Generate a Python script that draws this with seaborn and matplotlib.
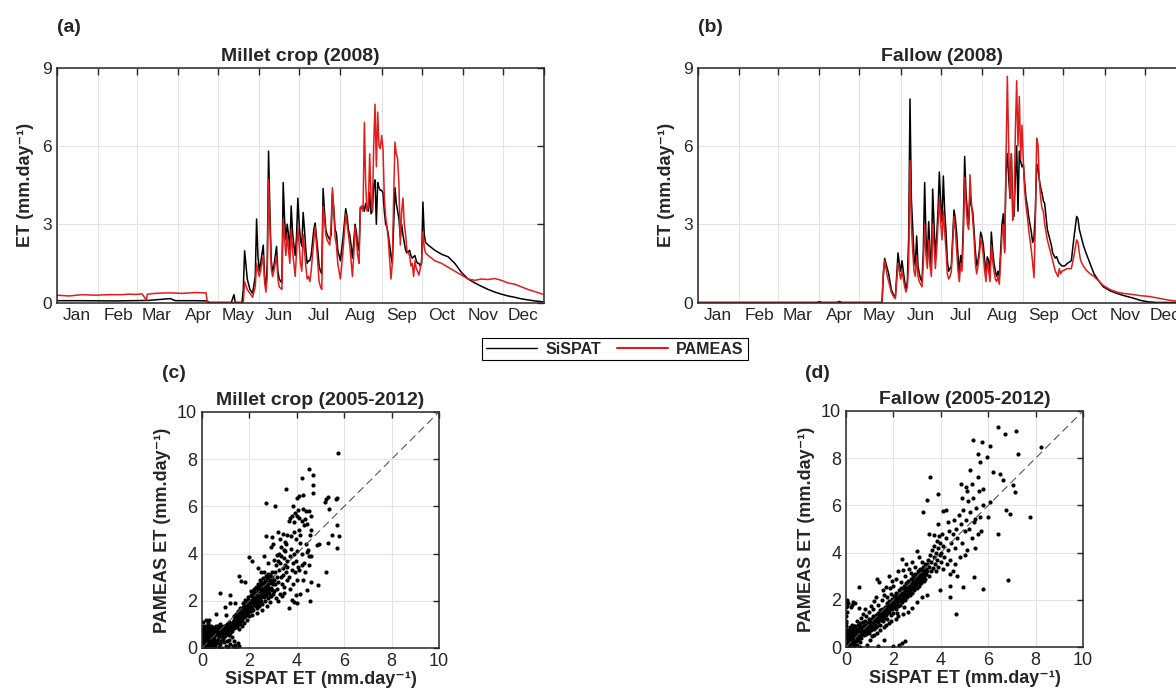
import numpy as np
import pandas as pd
import matplotlib
matplotlib.use("Agg")
import matplotlib.pyplot as plt
import matplotlib.dates as mdates
from matplotlib.ticker import NullFormatter
from matplotlib.lines import Line2D
import seaborn as sns

# ---- daily ET 2008, (day of year, mm/day) ----
millet_sispat = [
    (1, 0.07), (20, 0.07), (45, 0.06), (70, 0.08), (86, 0.15), (90, 0.07), (105, 0.07), (114, 0.06),
    (115, 0.0), (132, 0.0), (134, 0.3), (135, 0.0), (140, 0.0), (141, 0.5), (142, 1.98), (144, 0.9),
    (146, 0.5), (148, 0.35), (150, 1.0), (151, 3.2), (152, 1.8), (153, 1.2), (154, 1.5), (156, 2.2),
    (157, 1.0), (158, 0.5), (159, 1.5), (160, 5.8), (161, 3.5), (162, 1.6), (163, 1.2), (164, 1.4),
    (166, 2.15), (167, 1.2), (168, 0.9), (170, 0.75), (171, 4.6), (172, 3.2), (173, 2.4), (174, 3.0),
    (175, 2.6), (176, 2.0), (177, 3.7), (178, 2.7), (179, 2.2), (180, 1.8), (181, 2.5), (182, 4.0),
    (183, 3.0), (184, 2.4), (185, 2.15), (186, 3.45), (187, 2.8), (188, 2.0), (189, 1.5), (190, 1.6),
    (191, 1.6), (192, 1.8), (194, 2.8), (195, 3.05), (196, 2.5), (197, 2.0), (198, 1.4), (199, 1.2),
    (200, 1.1), (201, 4.37), (202, 3.5), (203, 2.8), (204, 2.6), (205, 2.5), (206, 2.4), (207, 2.6),
    (208, 4.2), (209, 3.6), (210, 2.8), (211, 2.65), (212, 2.0), (213, 1.8), (214, 1.6), (216, 2.5),
    (218, 3.6), (219, 3.3), (220, 2.8), (221, 2.6), (222, 2.2), (223, 1.7), (224, 2.3), (225, 3.0),
    (226, 2.7), (227, 2.2), (228, 2.0), (229, 3.65), (230, 3.6), (231, 3.7), (232, 3.5), (233, 3.8),
    (234, 3.6), (235, 3.5), (236, 4.2), (237, 3.4), (238, 3.5), (239, 4.5), (240, 4.7), (241, 3.0),
    (242, 4.6), (243, 4.4), (244, 4.3), (245, 4.3), (246, 4.2), (247, 3.5), (248, 3.0), (249, 2.9),
    (250, 2.6), (252, 1.8), (253, 1.5), (254, 3.0), (255, 4.4), (256, 3.8), (257, 3.5), (258, 3.2),
    (259, 2.5), (260, 3.0), (261, 2.6), (262, 2.3), (263, 2.0), (264, 1.9), (266, 2.0), (267, 1.8),
    (268, 1.7), (270, 1.8), (271, 1.6), (272, 1.5), (273, 1.5), (274, 1.4), (275, 1.5), (276, 3.85),
    (277, 2.6), (278, 2.3), (280, 2.2), (285, 2.0), (290, 1.85), (295, 1.75), (300, 1.5), (305, 1.15),
    (310, 0.9), (315, 0.75), (320, 0.62), (325, 0.5), (330, 0.4), (335, 0.32), (340, 0.25), (345, 0.2),
    (350, 0.14), (355, 0.1), (360, 0.06), (366, 0.03),
]
millet_pameas = [
    (1, 0.28), (10, 0.25), (20, 0.3), (30, 0.28), (40, 0.3), (50, 0.3), (55, 0.32), (60, 0.31),
    (65, 0.33), (68, 0.1), (69, 0.32), (75, 0.35), (85, 0.37), (95, 0.35), (105, 0.38), (113, 0.37),
    (114, 0.0), (141, 0.0), (142, 0.8), (144, 0.5), (146, 0.35), (148, 0.2), (150, 0.6), (151, 1.5),
    (152, 1.2), (153, 1.0), (154, 1.2), (156, 1.8), (157, 0.8), (158, 0.4), (159, 1.0), (160, 4.72),
    (161, 3.0), (162, 1.3), (163, 1.0), (164, 1.2), (166, 1.8), (167, 0.9), (168, 0.6), (170, 0.5),
    (171, 3.2), (172, 2.5), (173, 1.8), (174, 2.6), (175, 2.0), (176, 1.5), (177, 2.8), (178, 2.0),
    (179, 1.5), (180, 1.0), (181, 1.9), (182, 2.9), (183, 2.2), (184, 1.5), (185, 1.2), (186, 2.6),
    (187, 2.0), (188, 1.4), (189, 0.9), (190, 1.0), (191, 0.8), (192, 1.2), (194, 2.4), (195, 2.9),
    (196, 2.2), (197, 1.5), (198, 0.8), (199, 0.6), (200, 0.5), (201, 3.7), (202, 3.2), (203, 2.6),
    (204, 2.4), (205, 2.3), (206, 2.2), (207, 3.0), (208, 4.4), (209, 3.5), (210, 2.5), (211, 2.2),
    (212, 1.5), (213, 1.2), (214, 0.9), (216, 2.0), (218, 3.4), (219, 3.0), (220, 2.6), (221, 2.2),
    (222, 1.6), (223, 1.0), (224, 1.8), (225, 2.9), (226, 2.4), (227, 1.8), (228, 1.5), (229, 3.6),
    (230, 3.7), (231, 3.5), (232, 6.9), (233, 4.5), (234, 3.5), (235, 3.7), (236, 5.7), (237, 4.0),
    (238, 3.5), (239, 6.0), (240, 7.6), (241, 5.2), (242, 7.3), (243, 6.0), (244, 5.9), (245, 6.4),
    (246, 5.9), (247, 4.0), (248, 3.3), (249, 2.9), (250, 2.4), (252, 0.9), (253, 1.5), (254, 4.0),
    (255, 6.15), (256, 5.7), (257, 5.5), (258, 4.5), (259, 2.2), (260, 3.5), (261, 4.0), (262, 3.0),
    (263, 2.6), (264, 2.0), (266, 1.8), (267, 1.4), (268, 1.5), (269, 1.0), (270, 1.6), (271, 1.3),
    (272, 1.2), (273, 1.05), (274, 1.3), (275, 1.6), (276, 2.7), (277, 2.1), (278, 1.9), (280, 1.8),
    (285, 1.6), (290, 1.5), (295, 1.35), (300, 1.2), (305, 1.05), (310, 0.9), (315, 0.85), (320, 0.9),
    (325, 0.88), (330, 0.92), (335, 0.85), (340, 0.75), (345, 0.7), (350, 0.6), (355, 0.5), (360, 0.42),
    (366, 0.32),
]
fallow_sispat = [
    (1, 0.0), (90, 0.0), (92, 0.03), (94, 0.0), (105, 0.0), (107, 0.04), (109, 0.0), (139, 0.0),
    (140, 1.0), (141, 1.69), (143, 1.3), (144, 1.1), (146, 0.5), (148, 0.25), (149, 0.2), (150, 1.0),
    (151, 1.9), (152, 1.5), (153, 1.2), (154, 1.6), (155, 1.2), (156, 0.8), (157, 0.5), (158, 0.8),
    (159, 2.5), (160, 7.8), (161, 4.0), (162, 2.9), (163, 1.8), (164, 1.4), (165, 2.55), (166, 1.4),
    (167, 1.1), (168, 0.9), (169, 0.8), (170, 2.0), (171, 4.6), (172, 2.5), (173, 1.6), (174, 3.1),
    (175, 2.0), (176, 1.2), (177, 4.35), (178, 3.0), (179, 1.75), (180, 2.5), (181, 3.5), (182, 5.0),
    (183, 3.8), (184, 3.1), (185, 4.85), (186, 3.5), (187, 2.7), (188, 1.6), (189, 1.2), (190, 1.3),
    (191, 1.4), (192, 2.5), (193, 3.55), (194, 3.2), (195, 2.65), (196, 1.8), (197, 1.1), (198, 1.8),
    (199, 1.5), (200, 3.0), (201, 5.6), (202, 4.2), (203, 3.5), (204, 3.0), (205, 4.2), (206, 3.7),
    (207, 3.5), (208, 2.8), (209, 2.0), (210, 1.4), (211, 1.6), (212, 2.0), (213, 2.7), (214, 2.5),
    (215, 2.2), (216, 1.6), (217, 1.2), (218, 1.75), (219, 1.6), (220, 1.0), (221, 2.7), (222, 2.0),
    (223, 1.5), (224, 1.2), (225, 1.0), (226, 1.2), (227, 1.0), (229, 3.0), (230, 3.4), (231, 2.0),
    (232, 5.0), (233, 5.7), (234, 4.8), (235, 4.0), (236, 5.7), (237, 3.7), (238, 3.3), (239, 4.8),
    (240, 6.0), (241, 3.5), (242, 5.8), (243, 5.4), (244, 5.2), (245, 5.3), (246, 4.6), (247, 4.0),
    (248, 3.7), (249, 3.3), (250, 3.0), (251, 2.7), (252, 2.3), (253, 2.5), (254, 3.5), (255, 5.3),
    (256, 5.1), (257, 4.7), (258, 4.4), (259, 4.2), (260, 3.9), (261, 3.8), (262, 3.3), (263, 2.8),
    (264, 2.6), (265, 2.4), (266, 2.2), (267, 1.9), (268, 1.8), (269, 1.7), (270, 1.76), (271, 1.6),
    (272, 1.5), (273, 1.45), (274, 1.4), (276, 1.4), (278, 1.5), (281, 1.6), (283, 2.5), (285, 3.3),
    (286, 3.2), (287, 2.8), (288, 2.6), (290, 2.2), (292, 1.9), (295, 1.5), (298, 1.1), (302, 0.8),
    (305, 0.6), (310, 0.45), (315, 0.35), (320, 0.27), (328, 0.16), (333, 0.08), (338, 0.03),
    (345, 0.0), (366, 0.0),
]
fallow_pameas = [
    (1, 0.0), (139, 0.0), (140, 1.2), (141, 1.6), (143, 1.0), (144, 0.8), (146, 0.4), (148, 0.2),
    (149, 0.15), (150, 0.8), (151, 1.5), (152, 1.2), (153, 0.9), (154, 1.2), (155, 0.9), (156, 0.6),
    (157, 0.4), (158, 0.6), (159, 1.5), (160, 5.45), (161, 3.0), (162, 2.0), (163, 1.2), (164, 1.0),
    (165, 1.8), (166, 1.0), (167, 0.8), (168, 0.7), (169, 0.6), (170, 1.5), (171, 3.0), (172, 1.8),
    (173, 1.3), (174, 2.4), (175, 1.4), (176, 1.0), (177, 3.0), (178, 2.2), (179, 1.3), (180, 2.0),
    (181, 3.0), (182, 4.0), (183, 3.1), (184, 2.4), (185, 3.5), (186, 2.7), (187, 2.0), (188, 1.1),
    (189, 0.9), (190, 1.0), (191, 1.2), (192, 2.2), (193, 3.3), (194, 2.8), (195, 2.0), (196, 1.2),
    (197, 0.8), (198, 1.5), (199, 1.2), (200, 2.5), (201, 4.8), (202, 3.8), (203, 3.0), (204, 2.8),
    (205, 4.9), (206, 3.9), (207, 3.2), (208, 2.5), (209, 1.5), (210, 1.1), (211, 1.4), (212, 1.8),
    (213, 2.5), (214, 2.2), (215, 1.8), (216, 1.2), (217, 0.8), (218, 1.6), (219, 1.2), (220, 0.8),
    (221, 2.2), (222, 1.6), (223, 1.2), (224, 0.9), (225, 0.8), (226, 1.0), (227, 0.7), (229, 2.6),
    (230, 3.0), (231, 1.9), (232, 5.5), (233, 8.67), (234, 6.0), (235, 4.0), (236, 5.7), (237, 3.15),
    (238, 3.5), (239, 6.5), (240, 8.5), (241, 6.0), (242, 7.9), (243, 5.5), (244, 6.8), (245, 5.4),
    (246, 4.3), (247, 3.7), (248, 3.3), (249, 2.8), (250, 2.4), (251, 2.0), (252, 1.5), (253, 0.95),
    (254, 3.0), (255, 6.3), (256, 6.05), (257, 4.7), (258, 4.0), (259, 3.6), (260, 3.5), (261, 3.0),
    (262, 2.7), (263, 2.4), (264, 2.2), (265, 2.0), (266, 1.8), (267, 1.6), (268, 1.4), (269, 1.2),
    (270, 1.1), (271, 0.99), (272, 1.3), (273, 1.1), (274, 1.2), (276, 1.25), (278, 1.3), (281, 1.3),
    (283, 1.8), (285, 2.4), (286, 2.3), (287, 1.9), (288, 1.6), (290, 1.4), (292, 1.25), (295, 1.1),
    (298, 1.0), (302, 0.8), (305, 0.65), (310, 0.5), (315, 0.4), (320, 0.35), (328, 0.3), (333, 0.26),
    (338, 0.24), (345, 0.18), (353, 0.1), (360, 0.05), (366, 0.02),
]

# ---- daily ET 2005-2012, (SiSPAT, PAMEAS) pairs ----
millet_pairs = [
    (0.02, 0.05), (0.05, 0.15), (0.03, 0.3), (0.08, 0.02), (0.1, 0.25), (0.12, 0.4), (0.06, 0.5), (0.15, 0.1),
    (0.18, 0.3), (0.2, 0.55), (0.04, 0.7), (0.1, 0.8), (0.22, 0.7), (0.25, 0.2), (0.28, 0.45), (0.3, 0.85),
    (0.32, 0.6), (0.35, 0.3), (0.38, 0.75), (0.4, 0.5), (0.42, 0.9), (0.45, 0.15), (0.48, 0.65), (0.5, 0.35),
    (0.52, 0.8), (0.55, 0.55), (0.58, 0.95), (0.6, 0.7), (0.14, 0.62), (0.26, 0.9), (0.08, 0.95), (0.02, 0.55),
    (0.16, 0.78), (0.34, 0.05), (0.44, 0.38), (0.36, 0.95), (0.12, 0.18), (0.21, 0.05), (0.29, 0.68), (0.47, 0.82),
    (0.53, 0.6), (0.05, 0.38), (0.19, 0.45), (0.39, 0.62), (0.07, 0.85), (0.24, 0.35), (0.31, 0.18), (0.56, 0.72),
    (0.41, 0.25), (0.11, 0.68), (0.0, 0.2), (0.0, 0.6), (0.0, 0.9), (0.05, 1.1), (0.15, 1.2), (0.25, 1.05),
    (0.03, 0.12), (0.09, 0.45), (0.13, 0.3), (0.17, 0.52), (0.23, 0.15), (0.27, 0.78), (0.33, 0.42), (0.37, 0.12),
    (0.43, 0.55), (0.46, 0.75), (0.49, 0.22), (0.51, 0.48), (0.54, 0.9), (0.57, 0.3), (0.59, 0.58), (0.06, 0.25),
    (0.16, 0.92), (0.2, 0.35), (0.31, 0.95), (0.35, 0.55), (0.14, 0.05), (0.28, 0.25), (0.4, 0.08), (0.45, 0.62),
    (0.04, 0.8), (0.22, 0.6), (0.33, 0.72), (0.5, 0.02), (0.1, 0.58), (0.18, 0.2),
    (0.62, 0.85), (0.65, 0.6), (0.68, 0.78), (0.7, 0.92), (0.72, 0.5), (0.75, 0.7), (0.78, 0.85), (0.8, 0.62),
    (0.82, 0.95), (0.85, 0.75), (0.88, 0.55), (0.9, 0.88), (0.92, 0.68), (0.95, 0.8), (0.98, 0.95), (1.0, 0.6),
    (1.02, 0.75), (1.05, 0.9), (1.08, 0.7), (1.1, 0.85), (1.12, 0.55), (1.15, 0.95), (1.18, 0.78), (1.2, 0.65),
    (1.22, 0.9), (1.25, 1.05), (1.28, 0.82), (0.74, 1.0), (0.86, 0.45), (0.96, 0.5), (1.06, 1.02), (0.66, 0.4),
    (0.8, 0.3), (1.15, 1.1), (1.3, 1.0),
    (0.63, 0.72), (0.67, 0.95), (0.71, 0.65), (0.76, 0.88), (0.79, 0.55), (0.83, 0.8), (0.87, 0.65), (0.91, 0.95),
    (0.94, 0.72), (0.97, 0.62), (1.01, 0.88), (1.04, 0.65), (1.07, 0.82), (1.11, 0.98), (1.14, 0.68), (1.17, 0.88),
    (1.21, 0.78), (1.24, 0.95), (1.27, 0.7), (1.29, 1.12),
    (0.55, 0.1), (0.62, 0.2), (0.7, 0.05), (0.78, 0.15), (0.85, 0.02), (0.92, 0.25), (1.0, 0.1), (1.05, 0.3),
    (1.1, 0.05), (1.2, 0.15), (1.3, 0.08), (1.4, 0.12), (1.45, 0.02), (1.5, 0.2), (1.55, 0.1), (0.65, 0.3),
    (1.15, 0.35), (1.35, 0.3), (0.9, 0.4), (1.25, 0.45),
    (1.32, 1.1), (1.35, 0.85), (1.38, 1.25), (1.4, 1.0), (1.43, 1.15), (1.45, 0.9), (1.48, 1.3), (1.5, 1.1),
    (1.52, 1.4), (1.55, 1.0), (1.57, 1.25), (1.6, 1.45), (1.62, 1.15), (1.65, 1.35), (1.67, 1.6), (1.7, 1.2),
    (1.72, 1.45), (1.75, 1.65), (1.77, 1.3), (1.8, 1.55), (1.82, 1.8), (1.85, 1.4), (1.87, 1.65), (1.9, 1.9),
    (1.92, 1.5), (1.95, 1.75), (1.97, 1.95), (2.0, 1.6), (1.42, 1.45), (1.58, 0.8), (1.68, 0.95), (1.78, 1.05),
    (1.88, 1.2), (1.6, 1.7), (1.75, 1.9), (1.5, 1.55), (1.35, 1.35), (1.98, 1.35), (1.83, 2.05), (1.93, 2.15),
    (1.31, 0.95), (1.34, 1.2), (1.37, 1.05), (1.41, 1.3), (1.44, 1.05), (1.47, 1.45), (1.49, 0.95), (1.51, 1.25),
    (1.54, 1.5), (1.56, 1.15), (1.59, 1.35), (1.61, 1.05), (1.64, 1.55), (1.66, 1.25), (1.69, 1.4), (1.71, 1.75),
    (1.74, 1.35), (1.76, 1.55), (1.79, 1.75), (1.81, 1.35), (1.84, 1.6), (1.86, 1.85), (1.89, 1.5), (1.91, 1.75),
    (1.94, 1.6), (1.96, 2.05), (1.99, 1.8),
    (2.02, 1.85), (2.05, 2.05), (2.07, 1.55), (2.1, 1.75), (2.12, 2.2), (2.15, 1.95), (2.17, 1.6), (2.2, 2.1),
    (2.22, 1.85), (2.25, 2.3), (2.27, 2.0), (2.3, 1.7), (2.32, 2.15), (2.35, 1.9), (2.37, 2.4), (2.4, 2.05),
    (2.42, 1.8), (2.45, 2.25), (2.47, 2.5), (2.5, 2.0), (2.52, 2.3), (2.55, 1.85), (2.57, 2.6), (2.6, 2.15),
    (2.62, 2.4), (2.65, 2.7), (2.67, 2.0), (2.7, 2.5), (2.72, 2.25), (2.75, 2.8), (2.77, 2.1), (2.8, 2.6),
    (2.82, 2.35), (2.85, 2.9), (2.87, 2.5), (2.9, 2.2), (2.92, 2.75), (2.95, 3.0), (2.97, 2.45), (3.0, 2.7),
    (2.08, 2.4), (2.18, 2.5), (2.28, 2.6), (2.38, 2.7), (2.48, 2.8), (2.58, 2.95), (2.68, 3.05), (2.78, 3.15),
    (2.13, 1.4), (2.33, 1.5), (2.53, 1.6), (2.73, 1.8), (2.88, 1.95), (2.43, 2.9), (2.63, 3.2),
    (2.01, 1.95), (2.04, 1.7), (2.06, 2.25), (2.09, 1.95), (2.11, 1.65), (2.14, 2.3), (2.16, 2.05), (2.19, 1.85),
    (2.21, 2.4), (2.24, 2.1), (2.26, 1.8), (2.29, 2.35), (2.31, 2.05), (2.34, 2.55), (2.36, 2.2), (2.39, 1.95),
    (2.41, 2.6), (2.44, 2.1), (2.46, 2.4), (2.49, 2.15), (2.51, 2.7), (2.54, 2.45), (2.56, 2.2), (2.59, 2.75),
    (2.61, 2.5), (2.64, 2.25), (2.66, 2.85), (2.69, 2.6), (2.71, 2.35), (2.74, 2.95), (2.76, 2.65), (2.79, 2.45),
    (2.81, 3.05), (2.84, 2.75), (2.86, 2.2), (2.89, 3.1), (2.91, 2.55), (2.94, 2.85), (2.96, 3.2), (2.99, 2.3),
    (3.02, 2.9), (3.05, 2.4), (3.08, 3.2), (3.1, 2.7), (3.12, 3.5), (3.15, 2.5), (3.18, 3.0), (3.2, 3.7),
    (3.22, 2.8), (3.25, 3.3), (3.28, 2.3), (3.3, 3.6), (3.32, 3.0), (3.35, 3.9), (3.38, 2.7), (3.4, 3.4),
    (3.42, 3.1), (3.45, 3.8), (3.48, 2.6), (3.5, 3.5), (3.52, 4.1), (3.55, 3.2), (3.58, 2.9), (3.6, 3.7),
    (3.05, 3.75), (3.15, 3.95), (3.25, 4.0), (3.35, 4.3), (3.45, 4.15), (3.55, 4.4), (3.12, 2.1), (3.22, 2.0),
    (3.38, 2.2), (3.48, 2.35), (3.58, 3.45),
    (3.65, 3.0), (3.7, 3.9), (3.72, 2.5), (3.75, 4.2), (3.8, 3.3), (3.82, 3.6), (3.85, 2.7), (3.9, 4.0),
    (3.92, 3.2), (3.95, 3.7), (4.0, 4.1), (4.02, 2.9), (4.05, 3.45), (4.1, 3.3), (4.15, 2.3), (4.2, 3.5),
    (4.22, 4.0), (4.25, 2.9), (4.3, 3.6), (4.35, 3.2), (4.4, 4.4), (4.42, 4.05), (4.45, 2.45), (4.5, 3.5),
    (4.52, 3.9), (4.55, 2.0), (4.6, 2.8), (4.6, 3.9), (3.68, 1.7), (3.78, 2.05), (3.88, 1.95), (4.0, 1.9),
    (3.95, 2.25), (4.12, 4.45), (4.48, 4.15),
    (3.6, 4.8), (3.65, 5.4), (3.7, 5.5), (3.75, 4.75), (3.8, 5.6), (3.85, 6.0), (3.88, 4.9), (3.9, 5.35),
    (3.92, 5.7), (3.95, 4.6), (4.0, 5.6), (4.05, 5.85), (4.08, 5.0), (4.1, 5.5), (4.15, 4.8), (4.2, 5.4),
    (4.25, 5.9), (4.3, 5.2), (4.35, 5.45), (4.4, 5.8), (4.45, 5.25), (4.5, 5.8), (4.55, 4.8), (4.6, 5.6),
    (4.62, 5.0), (3.4, 4.85), (3.2, 4.9), (3.5, 4.5), (3.3, 4.6), (4.0, 6.35),
    (2.7, 6.15), (3.1, 6.0), (3.55, 6.75), (4.1, 6.45), (4.2, 7.2), (4.5, 7.6), (4.7, 7.35), (4.7, 6.9),
    (4.7, 6.55), (5.25, 6.3), (5.3, 6.4), (5.2, 6.2), (5.35, 5.9), (5.65, 6.3), (5.7, 6.35), (5.75, 8.25),
    (5.5, 4.8), (5.7, 5.2), (5.7, 4.25), (5.8, 4.75), (5.3, 4.45), (5.25, 3.2), (4.9, 2.65), (4.95, 4.4),
    (4.85, 4.35), (4.25, 6.5), (2.95, 4.7), (2.7, 4.75),
    (0.6, 1.45), (0.75, 2.35), (0.95, 1.75), (1.2, 2.25), (1.2, 1.9), (1.55, 3.05), (1.8, 2.8), (1.65, 2.85),
    (2.0, 3.85), (2.1, 3.7), (2.35, 3.4), (2.5, 3.2), (2.6, 3.9), (2.8, 3.6), (2.9, 4.3), (3.0, 4.4),
    (1.0, 1.4), (1.4, 1.9), (0.3, 1.2),
]
fallow_pairs = [
    (0.0, 0.1), (0.02, 0.3), (0.0, 0.5), (0.03, 0.7), (0.0, 0.9), (0.02, 1.1), (0.0, 1.3), (0.04, 1.5),
    (0.0, 1.7), (0.03, 1.9), (0.05, 2.0), (0.0, 1.0), (0.01, 0.2), (0.06, 1.75), (0.1, 1.85), (0.2, 1.7),
    (0.3, 1.9), (0.25, 1.8), (0.4, 1.85), (0.55, 1.65),
    (0.05, 0.05), (0.1, 0.15), (0.15, 0.05), (0.08, 0.35), (0.2, 0.25), (0.25, 0.1), (0.3, 0.4), (0.12, 0.55),
    (0.35, 0.2), (0.4, 0.5), (0.18, 0.7), (0.45, 0.3), (0.5, 0.65), (0.28, 0.6), (0.55, 0.45), (0.6, 0.2),
    (0.38, 0.8), (0.22, 0.45), (0.48, 0.1), (0.58, 0.75), (0.05, 0.6), (0.15, 0.85), (0.32, 0.05), (0.42, 0.7),
    (0.1, 0.7), (0.2, 0.75), (0.3, 0.8), (0.4, 0.9), (0.5, 0.95), (0.6, 1.0), (0.7, 1.05), (0.8, 1.1),
    (0.25, 0.95), (0.45, 1.1), (0.65, 1.25), (0.85, 1.3), (0.95, 1.2), (0.15, 0.65), (0.35, 0.72), (0.55, 0.88),
    (0.75, 0.95),
    (0.03, 0.15), (0.07, 0.25), (0.12, 0.1), (0.16, 0.35), (0.21, 0.12), (0.24, 0.55), (0.27, 0.3), (0.33, 0.15),
    (0.36, 0.48), (0.41, 0.25), (0.44, 0.6), (0.47, 0.4), (0.52, 0.3), (0.54, 0.65), (0.57, 0.5), (0.13, 0.45),
    (0.19, 0.58), (0.29, 0.68), (0.39, 0.62), (0.49, 0.78), (0.08, 0.5), (0.02, 0.4), (0.34, 0.88), (0.59, 0.9),
    (0.64, 0.8),
    (0.62, 0.55), (0.65, 0.4), (0.68, 0.7), (0.7, 0.6), (0.72, 0.85), (0.75, 0.5), (0.78, 0.75), (0.8, 0.65),
    (0.82, 0.9), (0.85, 0.55), (0.88, 0.8), (0.9, 0.7), (0.92, 1.0), (0.95, 0.6), (0.98, 0.9), (1.0, 0.8),
    (1.02, 1.1), (1.05, 0.7), (1.08, 0.95), (1.1, 1.15), (1.12, 0.85), (1.15, 1.05), (1.18, 0.75), (1.2, 1.2),
    (1.22, 0.95), (1.25, 1.1), (1.28, 1.35), (1.3, 0.9), (1.32, 1.2), (1.35, 1.05), (1.38, 1.4), (1.4, 1.25),
    (1.42, 0.95), (1.45, 1.35), (1.48, 1.15), (1.5, 1.5), (1.52, 1.3), (1.55, 1.1), (1.58, 1.45), (1.6, 1.6),
    (1.62, 1.25), (1.65, 1.5), (1.68, 1.35), (1.7, 1.7), (1.72, 1.45), (1.75, 1.2), (1.78, 1.6), (1.8, 1.8),
    (1.82, 1.5), (1.85, 1.7), (1.88, 1.35), (1.9, 1.9), (1.92, 1.6), (1.95, 1.8), (1.98, 1.45), (2.0, 2.0),
    (0.63, 0.65), (0.66, 0.85), (0.69, 0.55), (0.73, 0.7), (0.76, 0.9), (0.79, 0.6), (0.83, 0.75), (0.86, 0.95),
    (0.89, 0.65), (0.93, 0.85), (0.96, 1.05), (0.99, 0.75), (1.03, 0.9), (1.06, 1.2), (1.09, 0.85), (1.13, 1.0),
    (1.16, 1.3), (1.19, 0.95), (1.23, 1.15), (1.26, 0.85), (1.29, 1.25), (1.33, 1.45), (1.36, 1.15), (1.39, 1.3),
    (1.43, 1.55), (1.46, 1.25), (1.49, 1.4), (1.53, 1.6), (1.56, 1.35), (1.59, 1.55), (1.63, 1.7), (1.66, 1.4),
    (1.69, 1.6), (1.73, 1.85), (1.76, 1.5), (1.79, 1.7), (1.83, 1.95), (1.86, 1.6), (1.89, 1.8), (1.93, 2.05),
    (1.96, 1.65), (1.99, 1.9),
    (2.02, 1.7), (2.05, 1.9), (2.08, 2.1), (2.1, 1.6), (2.12, 1.85), (2.15, 2.05), (2.18, 1.75), (2.2, 2.25),
    (2.22, 1.95), (2.25, 2.1), (2.28, 1.8), (2.3, 2.3), (2.32, 2.0), (2.35, 2.2), (2.38, 1.9), (2.4, 2.45),
    (2.42, 2.1), (2.45, 2.3), (2.48, 2.0), (2.5, 2.55), (2.52, 2.2), (2.55, 2.4), (2.58, 2.1), (2.6, 2.6),
    (2.62, 2.3), (2.65, 2.5), (2.68, 2.2), (2.7, 2.75), (2.72, 2.4), (2.75, 2.6), (2.78, 2.3), (2.8, 2.85),
    (2.82, 2.55), (2.85, 2.7), (2.88, 2.4), (2.9, 2.95), (2.92, 2.65), (2.95, 2.8), (2.98, 2.5), (3.0, 3.05),
    (3.02, 2.75), (3.05, 2.9), (3.08, 2.6), (3.1, 3.15), (3.12, 2.85), (3.15, 3.0), (3.18, 2.7), (3.2, 3.25),
    (3.22, 2.95), (3.25, 3.1), (3.28, 2.8), (3.3, 3.35), (3.32, 3.05), (2.15, 1.45), (2.45, 1.7),
    (2.03, 2.15), (2.06, 1.8), (2.09, 2.0), (2.13, 2.3), (2.16, 1.9), (2.19, 2.15), (2.23, 2.4), (2.26, 2.0),
    (2.29, 2.2), (2.33, 2.5), (2.36, 2.05), (2.39, 2.3), (2.43, 2.6), (2.46, 2.15), (2.49, 2.4), (2.53, 2.7),
    (2.56, 2.25), (2.59, 2.5), (2.63, 2.8), (2.66, 2.35), (2.69, 2.6), (2.73, 2.9), (2.76, 2.45), (2.79, 2.7),
    (2.83, 3.0), (2.86, 2.55), (2.89, 2.8), (2.93, 3.1), (2.96, 2.65), (2.99, 2.9), (3.03, 3.2), (3.06, 2.75),
    (3.09, 3.0), (3.13, 3.3), (3.16, 2.85), (3.19, 3.1), (3.23, 3.4), (3.26, 2.95), (3.29, 3.2), (3.33, 3.5),
    (3.36, 3.1), (3.39, 3.3),
    (0.7, 1.4), (0.8, 1.6), (0.95, 1.5), (1.05, 1.75), (1.15, 1.6), (1.2, 1.95), (1.25, 2.1), (1.3, 2.9),
    (1.4, 2.75), (1.35, 1.8), (1.5, 2.0), (1.55, 2.4), (1.6, 2.2), (1.7, 2.55), (1.75, 2.1), (1.85, 2.5),
    (1.9, 2.25), (1.95, 2.8), (2.0, 2.6), (2.1, 2.9), (2.2, 3.2), (2.3, 2.75), (2.4, 3.25), (2.5, 3.0),
    (2.55, 3.5), (2.65, 3.3), (2.75, 3.15), (2.8, 3.6), (2.9, 3.4), (3.0, 4.05), (3.1, 3.8), (3.2, 3.6),
    (2.35, 3.75), (1.8, 3.0), (0.56, 2.54),
    (1.0, 0.3), (1.1, 0.45), (1.2, 0.5), (1.3, 0.6), (1.35, 0.05), (1.45, 0.7), (1.6, 0.85), (1.7, 0.95),
    (1.8, 1.0), (1.9, 1.1), (2.0, 0.05), (2.1, 1.2), (2.2, 1.3), (2.25, 0.1), (2.35, 0.15), (2.5, 0.25),
    (2.4, 1.4), (2.6, 1.5), (2.8, 1.65), (3.0, 1.9), (3.2, 2.1), (3.4, 2.2), (0.6, 0.0), (0.9, 0.1),
    (1.6, 0.3),
    (3.35, 2.9), (3.4, 3.5), (3.42, 3.2), (3.45, 3.7), (3.5, 3.0), (3.52, 3.4), (3.55, 3.9), (3.58, 3.2),
    (3.6, 3.6), (3.62, 4.1), (3.65, 3.35), (3.7, 3.8), (3.72, 4.3), (3.75, 3.5), (3.78, 4.0), (3.8, 3.2),
    (3.82, 4.5), (3.85, 3.7), (3.88, 4.2), (3.9, 3.4), (3.92, 4.7), (3.95, 3.9), (3.98, 4.4), (4.0, 3.6),
    (4.02, 4.0), (4.05, 4.8), (4.08, 3.3), (4.1, 4.3), (4.15, 3.8), (4.2, 4.6), (4.25, 3.5), (4.3, 4.1),
    (4.35, 4.9), (4.4, 3.7), (4.45, 4.4), (4.5, 3.2), (3.5, 4.8), (3.7, 4.75), (3.9, 5.2), (4.1, 5.75),
    (4.5, 4.8), (4.55, 5.4), (4.6, 4.2), (4.65, 5.0), (4.7, 4.6), (4.75, 5.6), (4.8, 3.8), (4.85, 5.2),
    (4.9, 4.4), (4.95, 5.8), (5.0, 4.9), (5.05, 5.4), (5.1, 4.1), (5.15, 6.2), (5.2, 5.0), (5.25, 5.7),
    (5.3, 4.6), (5.35, 6.3), (5.4, 5.3), (5.45, 4.2), (5.5, 5.9), (5.55, 4.8), (5.6, 6.6), (5.65, 5.5),
    (5.7, 4.9), (4.6, 3.5), (4.7, 3.0), (4.4, 2.6), (5.0, 3.9), (5.1, 6.6), (5.3, 6.9), (4.9, 6.3),
    (4.3, 5.3), (4.2, 5.8), (5.8, 6.0),
    (6.42, 9.32), (6.7, 9.04), (7.16, 9.14), (7.26, 8.19), (5.37, 8.79), (5.72, 8.69), (6.07, 8.5), (5.58, 8.19),
    (5.93, 8.05), (5.65, 7.84), (8.24, 8.47), (3.54, 7.2), (3.4, 6.21), (3.89, 6.5), (3.26, 5.72), (6.2, 7.42),
    (6.49, 7.34), (6.63, 7.06), (7.05, 6.85), (7.12, 6.57), (5.22, 7.49), (5.58, 7.2), (4.87, 6.92), (5.08, 6.78),
    (5.79, 6.71), (6.07, 6.14), (6.0, 5.51), (5.44, 5.44), (6.77, 5.79), (6.91, 5.65), (7.75, 5.51), (6.42, 4.8),
    (5.79, 2.47), (6.84, 2.82), (4.66, 1.41), (4.94, 2.54), (5.41, 2.97), (4.38, 2.12), (4.38, 3.1), (3.96, 2.4),
]

sns.set_style("white")
plt.rcParams["font.family"] = ["Liberation Sans", "DejaVu Sans"]
plt.rcParams["axes.linewidth"] = 1.1
plt.rcParams["xtick.labelsize"] = 12.5
plt.rcParams["ytick.labelsize"] = 12.5

RED = "#e21b1b"
W, H = 1176, 697


def box(x0, y0, x1, y1):
    # pixel box (top-left origin) -> figure rect
    return [x0 / W, 1 - y1 / H, (x1 - x0) / W, (y1 - y0) / H]


def as_frame(pairs):
    df = pd.DataFrame(pairs, columns=["doy", "et"])
    df["date"] = pd.Timestamp("2008-01-01") + pd.to_timedelta(df["doy"] - 1, unit="D")
    return df


fig = plt.figure(figsize=(W / 100, H / 100), dpi=100)

ax_a = fig.add_axes(box(57, 67.7, 544, 302.5))
ax_b = fig.add_axes(box(698, 67.7, 1186, 302.5))
ax_c = fig.add_axes(box(202, 412, 439, 648))
ax_d = fig.add_axes(box(846, 411, 1083, 647))

for ax, sis, pam, title in [(ax_a, millet_sispat, millet_pameas, "Millet crop (2008)"),
                            (ax_b, fallow_sispat, fallow_pameas, "Fallow (2008)")]:
    sns.lineplot(data=as_frame(sis), x="date", y="et", color="black", lw=1.1, ax=ax,
                 estimator=None, sort=False)
    sns.lineplot(data=as_frame(pam), x="date", y="et", color=RED, lw=1.1, ax=ax,
                 estimator=None, sort=False)
    ax.set_xlim(pd.Timestamp("2008-01-01"), pd.Timestamp("2009-01-01"))
    ax.set_ylim(0, 9)
    ax.set_yticks([0, 3, 6, 9])
    ax.xaxis.set_major_locator(mdates.MonthLocator())
    ax.xaxis.set_major_formatter(NullFormatter())
    ax.xaxis.set_minor_locator(mdates.MonthLocator(bymonthday=16))
    ax.xaxis.set_minor_formatter(mdates.DateFormatter("%b"))
    ax.tick_params(axis="x", which="minor", length=0, pad=4)
    ax.tick_params(which="major", direction="in", top=True, right=True, length=5, width=1)
    ax.grid(True, which="major", color="#e4e4e4", lw=0.8)
    ax.set_axisbelow(True)
    ax.set_xlabel("")
    ax.set_ylabel("ET (mm.day\u207b\u00b9)", fontsize=13, fontweight="bold", labelpad=6)
    ax.set_title(title, fontsize=14, fontweight="bold", pad=5)

for ax, pairs, title in [(ax_c, millet_pairs, "Millet crop (2005-2012)"),
                         (ax_d, fallow_pairs, "Fallow (2005-2012)")]:
    df = pd.DataFrame(pairs, columns=["sispat", "pameas"])
    sns.scatterplot(data=df, x="sispat", y="pameas", color="black", s=9, linewidth=0, ax=ax)
    ax.plot([0, 10], [0, 10], ls=(0, (7, 4)), color="#555555", lw=0.8, zorder=5)
    ax.set_xlim(0, 10)
    ax.set_ylim(0, 10)
    ax.set_xticks(range(0, 11, 2))
    ax.set_yticks(range(0, 11, 2))
    ax.tick_params(direction="in", top=True, right=True, length=4, width=1, labelsize=13)
    ax.grid(True, color="#e4e4e4", lw=0.8)
    ax.set_axisbelow(True)
    ax.set_xlabel("SiSPAT ET (mm.day\u207b\u00b9)", fontsize=13, fontweight="bold", labelpad=1)
    ax.set_ylabel("PAMEAS ET (mm.day\u207b\u00b9)", fontsize=13, fontweight="bold", labelpad=4)
    ax.set_title(title, fontsize=14, fontweight="bold", pad=5)

for lab, x, y in [("(a)", 57, 28), ("(b)", 698, 28), ("(c)", 162, 373), ("(d)", 805, 373)]:
    fig.text(x / W, 1 - y / H, lab, fontsize=14, fontweight="bold", ha="left", va="center")

handles = [Line2D([], [], color="black", lw=1.0), Line2D([], [], color=RED, lw=1.5)]
leg = fig.legend(handles, ["SiSPAT", "PAMEAS"], loc="center", ncol=2,
                 bbox_to_anchor=(615 / W, 1 - 349 / H), frameon=True, fancybox=False,
                 edgecolor="black", framealpha=1, prop={"weight": "bold", "size": 11.5},
                 handlelength=3.2, columnspacing=1.0, borderpad=0.25, handletextpad=0.5)
leg.get_frame().set_linewidth(0.8)

fig.savefig("out.png", dpi=100)
